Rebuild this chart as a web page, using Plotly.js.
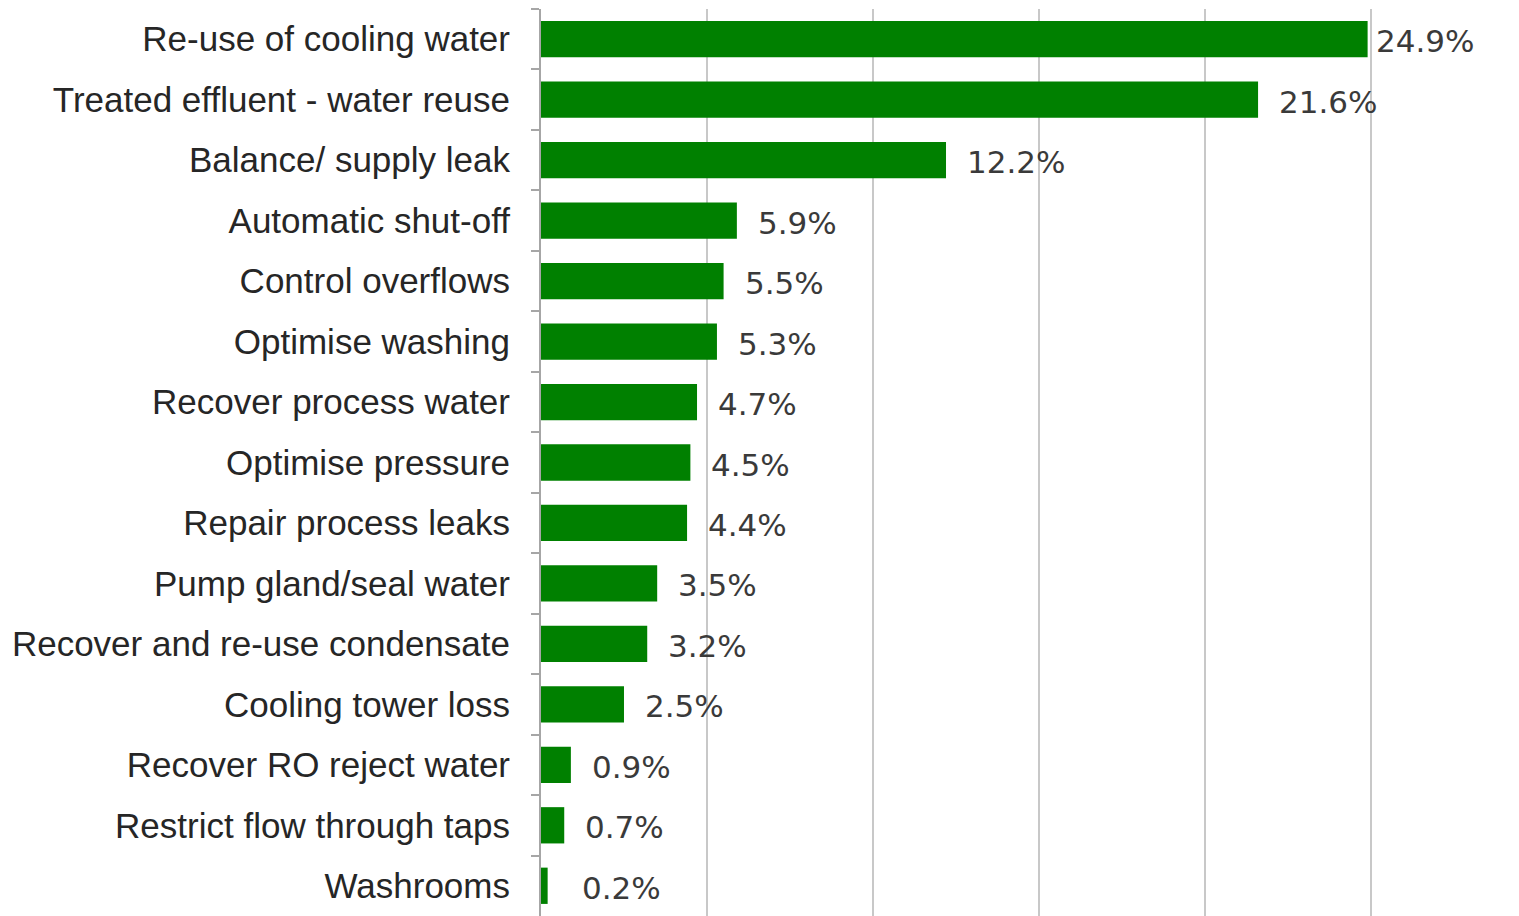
<!DOCTYPE html>
<html>
<head>
<meta charset="utf-8">
<script src="https://cdn.plot.ly/plotly-3.0.1.min.js"></script>
<style>
html,body{margin:0;padding:0;background:#fff;}
#chart{width:1519px;height:916px;}
</style>
</head>
<body>
<div id="chart"></div>
<script>
const categories = [
  "Re-use of cooling water",
  "Treated effluent - water reuse",
  "Balance/ supply leak",
  "Automatic shut-off",
  "Control overflows",
  "Optimise washing",
  "Recover process water",
  "Optimise pressure",
  "Repair process leaks",
  "Pump gland/seal water",
  "Recover and re-use condensate",
  "Cooling tower loss",
  "Recover RO reject water",
  "Restrict flow through taps",
  "Washrooms"
];
const values = [24.9, 21.6, 12.2, 5.9, 5.5, 5.3, 4.7, 4.5, 4.4, 3.5, 3.2, 2.5, 0.9, 0.7, 0.2];
const valueLabels = values.map(v => v.toFixed(1) + "%");

const trace = {
  type: "bar",
  orientation: "h",
  x: values,
  y: categories,
  marker: {color: "#008000"},
  hoverinfo: "none"
};

const annotations = values.map((v, i) => ({
  x: v,
  y: categories[i],
  xref: "x",
  yref: "y",
  text: valueLabels[i],
  showarrow: false,
  xanchor: "left",
  yanchor: "middle",
  xshift: i === 0 ? 6 : (i === values.length - 1 ? 32 : 19),
  yshift: -2,
  font: {family: "DejaVu Sans", size: 31, color: "#3a3a3a"}
}));

const layout = {
  width: 1519,
  height: 916,
  margin: {l: 541, r: 0, t: 9, b: 0, pad: 0},
  paper_bgcolor: "#ffffff",
  plot_bgcolor: "#ffffff",
  showlegend: false,
  bargap: 0.4,
  xaxis: {
    range: [0, 29.46],
    dtick: 5,
    tick0: 0,
    showgrid: true,
    gridcolor: "#c8c8c8",
    gridwidth: 2,
    showticklabels: false,
    zeroline: false,
    showline: false,
    ticks: ""
  },
  yaxis: {
    type: "category",
    autorange: "reversed",
    showline: true,
    linecolor: "#a6a6a6",
    linewidth: 2,
    ticks: "outside",
    tickson: "boundaries",
    ticklen: 8,
    tickwidth: 2,
    tickcolor: "#a6a6a6",
    showgrid: false,
    ticklabelstandoff: 22,
    tickfont: {family: "Liberation Sans", size: 35, color: "#262626"}
  },
  annotations: annotations
};

Plotly.newPlot("chart", [trace], layout, {displayModeBar: false, staticPlot: true});
</script>
</body>
</html>
